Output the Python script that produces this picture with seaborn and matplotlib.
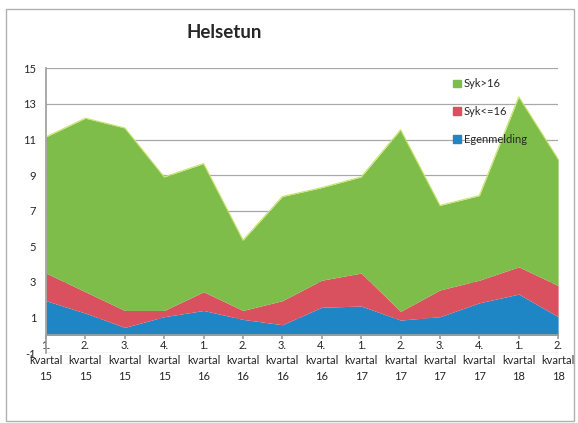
import matplotlib
matplotlib.use("Agg")
import matplotlib.pyplot as plt
import seaborn as sns
import numpy as np
from matplotlib.patches import Rectangle, Patch

categories = ["1.\nkvartal\n15", "2.\nkvartal\n15", "3.\nkvartal\n15", "4.\nkvartal\n15",
              "1.\nkvartal\n16", "2.\nkvartal\n16", "3.\nkvartal\n16", "4.\nkvartal\n16",
              "1.\nkvartal\n17", "2.\nkvartal\n17", "3.\nkvartal\n17", "4.\nkvartal\n17",
              "1.\nkvartal\n18", "2.\nkvartal\n18"]
egenmelding = [1.95, 1.25, 0.45, 1.05, 1.4, 0.9, 0.6, 1.58, 1.65, 0.86, 1.05, 1.83, 2.32, 1.05]
syk_le16 = [1.55, 1.2, 0.95, 0.35, 1.05, 0.5, 1.35, 1.52, 1.85, 0.49, 1.5, 1.27, 1.53, 1.75]
syk_gt16 = [7.65, 9.75, 10.25, 7.5, 7.2, 3.95, 5.85, 5.2, 5.4, 10.2, 4.75, 4.75, 9.55, 7.1]
series_names = ["Egenmelding", "Syk<=16", "Syk>16"]
yticks = [-1, 1, 3, 5, 7, 9, 11, 13, 15]

sns.set_theme(style="white")
plt.rcParams['font.family'] = ['Lato', 'DejaVu Sans']

colors = ["#1f86c6", "#d9505f", "#7fbd4b"]

fig = plt.figure(figsize=(5.78, 4.23), dpi=100)
ax = fig.add_axes([0.0796, 0.165, 0.886, 0.6735])

x = np.arange(len(categories))
b = np.zeros(len(x))
for vals, name, c in zip([egenmelding, syk_le16, syk_gt16], series_names, colors):
    top = b + np.array(vals)
    ax.fill_between(x, b, top, color=c, linewidth=0, label=name)
    b = top
sns.lineplot(x=x, y=b, ax=ax, color="#c9e36a", linewidth=0.8)

ax.set_xlim(0, len(x) - 1)
ax.set_ylim(-1, 15)
ax.set_yticks(yticks)
ax.set_yticklabels([str(v) for v in yticks], fontsize=8)
ax.yaxis.grid(True, color="#a8a8a8", linewidth=0.9)
ax.set_axisbelow(True)
ax.tick_params(axis='y', length=0, pad=7)

ax.spines['top'].set_visible(False)
ax.spines['right'].set_visible(False)
ax.spines['left'].set_color("#a0a0a0")
ax.spines['bottom'].set_position(('data', 0))
ax.spines['bottom'].set_color("#a0a0a0")
ax.spines['bottom'].set_zorder(3)
ax.set_xticks(x)
ax.set_xticklabels(categories, fontsize=8, linespacing=1.5)
ax.tick_params(axis='x', length=3, direction='out', color="#a0a0a0", pad=0, bottom=True)

leg_handles = [Patch(color=colors[2]), Patch(color=colors[1]), Patch(color=colors[0])]
leg = ax.legend(leg_handles, ["Syk>16", "Syk<=16", "Egenmelding"], frameon=False,
                loc='upper left', bbox_to_anchor=(0.775, 1.0), fontsize=8,
                handlelength=0.7, handleheight=0.7, handletextpad=0.3, labelspacing=1.5)

fig.text(0.388, 0.923, "Helsetun", fontsize=13.5, fontweight='bold', ha='center', va='center')

fig.patches.append(Rectangle((0.0104, 0.004), 0.982, 0.975, transform=fig.transFigure,
                             fill=False, edgecolor="#b0b0b0", linewidth=1))

fig.savefig("out.png", dpi=100)
